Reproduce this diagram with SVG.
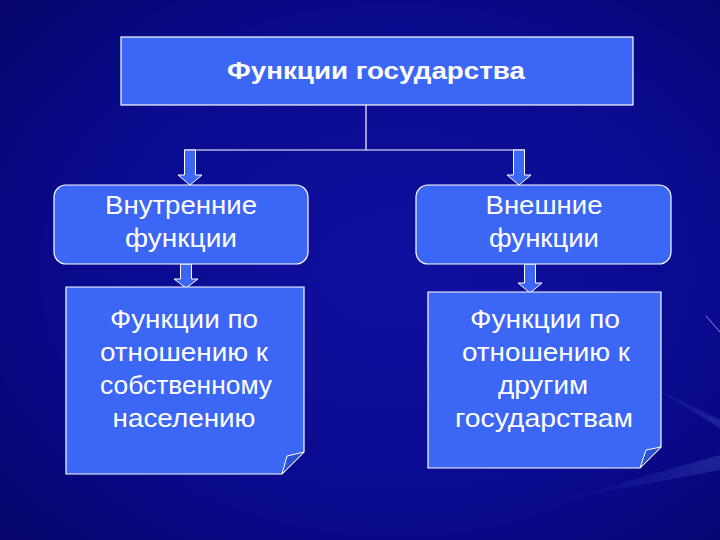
<svg xmlns="http://www.w3.org/2000/svg" width="720" height="540" viewBox="0 0 720 540">
<defs>
<radialGradient id="bg" cx="0.55" cy="0.5" r="0.75">
<stop offset="0" stop-color="#1010a0"/>
<stop offset="0.6" stop-color="#0a0a8e"/>
<stop offset="1" stop-color="#05056a"/>
</radialGradient>
<linearGradient id="streak" x1="0" y1="0" x2="1" y2="0">
<stop offset="0" stop-color="#6a7cff" stop-opacity="0"/>
<stop offset="1" stop-color="#8a9cff" stop-opacity="0.35"/>
</linearGradient>
</defs>
<style>
.box{fill:#3c66f5;stroke:#ffffff;stroke-width:1.2}
.fold{fill:#2d52d6;stroke:#ffffff;stroke-width:1}
.arrow{fill:#3c66f5;stroke:#ffffff;stroke-width:1}
.line{stroke:#ffffff;stroke-width:1.2;fill:none}
.t{font-family:"Liberation Sans",Arial,sans-serif;fill:#ffffff;text-anchor:middle}
.title{font-size:23px;font-weight:bold}
.lbl{font-size:25px}
</style>
<rect x="0" y="0" width="720" height="540" fill="url(#bg)"/>
<path d="M560,500 L720,455 L720,470 Z" fill="url(#streak)" opacity="0.5"/>
<path d="M640,380 L720,420 L720,428 Z" fill="url(#streak)" opacity="0.5"/>
<line x1="706" y1="316" x2="720" y2="332" stroke="#c8a0ff" stroke-width="1" opacity="0.8"/>

<g id="connectors">
<line class="line" x1="366" y1="105" x2="366" y2="150"/>
<line class="line" x1="184" y1="150" x2="525" y2="150"/>
<path class="arrow" d="M184.5,150 H195.5 V175 H202 L190,185 L178,175 H184.5 Z"/>
<path class="arrow" d="M513.5,150 H524.5 V175 H531 L519,185 L507,175 H513.5 Z"/>
<path class="arrow" d="M180.5,264 H191.5 V279 H198 L186,288 L174,279 H180.5 Z"/>
<path class="arrow" d="M524.5,264 H535.5 V283 H542 L530,293 L518,283 H524.5 Z"/>
</g>

<g id="root">
<rect class="box" x="121" y="37" width="512" height="68"/>
<text class="t title" x="376" y="79" textLength="298" lengthAdjust="spacingAndGlyphs">Функции государства</text>
</g>

<g id="internal">
<rect class="box" x="54" y="185" width="254" height="79" rx="12" ry="12"/>
<text class="t lbl" x="181" y="214" textLength="152" lengthAdjust="spacingAndGlyphs">Внутренние</text>
<text class="t lbl" x="181" y="247" textLength="112" lengthAdjust="spacingAndGlyphs">функции</text>
</g>

<g id="external">
<rect class="box" x="416" y="185" width="255" height="79" rx="12" ry="12"/>
<text class="t lbl" x="544" y="214" textLength="117" lengthAdjust="spacingAndGlyphs">Внешние</text>
<text class="t lbl" x="544" y="247" textLength="110" lengthAdjust="spacingAndGlyphs">функции</text>
</g>

<g id="internal-detail">
<path class="box" d="M66,287 H304 V452 L282,474 H66 Z"/>
<path class="fold" d="M282,474 L287,456 L304,452 Z"/>
<text class="t lbl" x="184" y="328" textLength="148" lengthAdjust="spacingAndGlyphs">Функции по</text>
<text class="t lbl" x="184" y="361" textLength="168" lengthAdjust="spacingAndGlyphs">отношению к</text>
<text class="t lbl" x="186" y="394" textLength="172" lengthAdjust="spacingAndGlyphs">собственному</text>
<text class="t lbl" x="184" y="427" textLength="143" lengthAdjust="spacingAndGlyphs">населению</text>
</g>

<g id="external-detail">
<path class="box" d="M428,292 H661 V447 L640,468 H428 Z"/>
<path class="fold" d="M640,468 L646,450 L661,447 Z"/>
<text class="t lbl" x="545" y="328" textLength="150" lengthAdjust="spacingAndGlyphs">Функции по</text>
<text class="t lbl" x="546" y="361" textLength="168" lengthAdjust="spacingAndGlyphs">отношению к</text>
<text class="t lbl" x="543" y="394" textLength="90" lengthAdjust="spacingAndGlyphs">другим</text>
<text class="t lbl" x="544" y="427" textLength="178" lengthAdjust="spacingAndGlyphs">государствам</text>
</g>
</svg>
